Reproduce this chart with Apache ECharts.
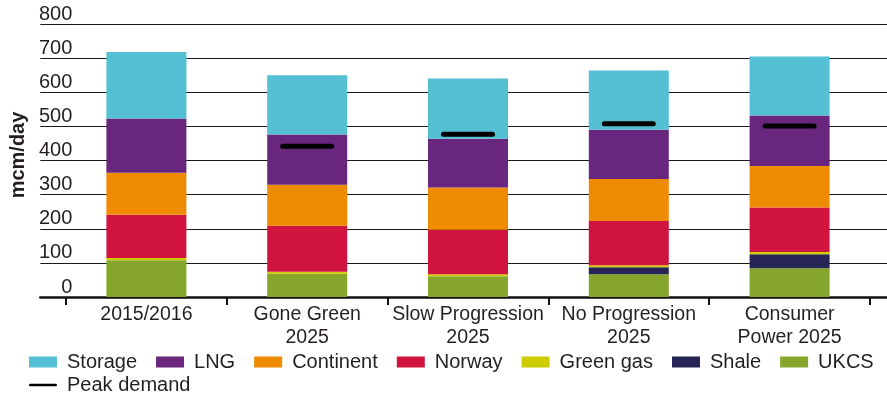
<!DOCTYPE html>
<html>
<head>
<meta charset="utf-8">
<script src="https://cdn.jsdelivr.net/npm/echarts@6/dist/echarts.min.js"></script>
<style>
  html, body { margin: 0; padding: 0; background: #fff; }
  #chart { width: 887px; height: 396px; }
</style>
</head>
<body>
<div id="chart"></div>
<script>
// Gas supply by source, mcm/day
const categories = ['2015/2016', 'Gone Green\n2025', 'Slow Progression\n2025', 'No Progression\n2025', 'Consumer\nPower 2025'];
const yTicks = [0, 100, 200, 300, 400, 500, 600, 700, 800];

const ukcs      = [108, 68, 61, 67, 84];
const shale     = [0, 0, 0, 20, 41];
const greenGas  = [6, 6, 6, 6, 7];
const norway    = [127, 135, 130, 130, 130];
const continent = [123, 120, 124, 123, 122];
const lng       = [159, 147, 143, 144, 148];
const storage   = [195, 174, 176, 174, 173];
const peakDemand = ['-', 442, 477, 508, 501];

const FONT = "'Liberation Sans', Arial, Helvetica, sans-serif";
const TEXT = '#231f20';

// capsule marker used for peak demand
const CAPSULE = 'path://M2.5,0 H51.5 A2.5,2.5 0 0 1 51.5,5 H2.5 A2.5,2.5 0 0 1 2.5,0 Z';

// stacked from the bottom up
const stackSeries = [
  { name: 'UKCS',      data: ukcs,      color: '#86a52b' },
  { name: 'Shale',     data: shale,     color: '#272456' },
  { name: 'Green gas', data: greenGas,  color: '#cccc00' },
  { name: 'Norway',    data: norway,    color: '#d1133f' },
  { name: 'Continent', data: continent, color: '#ef8b00' },
  { name: 'LNG',       data: lng,       color: '#69267f' },
  { name: 'Storage',   data: storage,   color: '#54c0d4' }
];
const legendOrder = ['Storage', 'LNG', 'Continent', 'Norway', 'Green gas', 'Shale', 'UKCS'];

const chart = echarts.init(document.getElementById('chart'), null, { renderer: 'canvas' });

const yMin = yTicks[0], yMax = yTicks[yTicks.length - 1], yStep = yTicks[1] - yTicks[0];

chart.setOption({
  animation: false,
  textStyle: { fontFamily: FONT },
  grid: [
    // full-width frame: gridlines and baseline
    { left: 29, right: 0, top: 24, bottom: 99 },
    // category band where the bars sit
    { left: 66, right: 17, top: 24, bottom: 99 }
  ],
  xAxis: [
    {
      gridIndex: 0, type: 'value', min: 0, max: 1,
      axisLine: { show: true, lineStyle: { color: '#111', width: 2.5 } },
      axisTick: { show: false }, axisLabel: { show: false }, splitLine: { show: false }
    },
    {
      gridIndex: 1, type: 'category', data: categories,
      axisLine: { show: false },
      axisTick: { show: true, length: 8, lineStyle: { color: '#111', width: 2 } },
      axisLabel: {
        interval: 0, margin: 6, fontSize: 19.5, lineHeight: 23,
        color: TEXT, fontFamily: FONT
      }
    }
  ],
  yAxis: [
    {
      gridIndex: 0, type: 'value', min: yMin, max: yMax, interval: yStep,
      name: 'mcm/day', nameLocation: 'middle', nameRotate: 90, nameGap: 5,
      nameTextStyle: { fontSize: 20, fontWeight: 'bold', color: TEXT, fontFamily: FONT, padding: [0, 0, 0, 11] },
      axisLine: { show: false }, axisTick: { show: false },
      axisLabel: {
        margin: -32, align: 'right', verticalAlign: 'bottom', lineHeight: 20,
        fontSize: 20, color: TEXT, fontFamily: FONT
      },
      splitLine: { show: true, lineStyle: { color: '#1a1a1a', width: 1.2 } }
    },
    {
      gridIndex: 1, type: 'value', min: yMin, max: yMax, interval: yStep, show: false,
      splitLine: { show: false }
    }
  ],
  legend: [
    {
      data: legendOrder.map(n => ({ name: n, icon: 'rect' })),
      left: 29, top: 352, padding: 0, itemWidth: 28, itemHeight: 11, itemGap: 19,
      textStyle: { fontSize: 20, color: TEXT, fontFamily: FONT, padding: [0, 0, 0, 5] }
    },
    {
      data: [{ name: 'Peak demand', icon: CAPSULE }],
      left: 29, top: 375, padding: 0, itemWidth: 28, itemHeight: 5,
      textStyle: { fontSize: 20, color: TEXT, fontFamily: FONT, padding: [0, 0, 0, 5] }
    }
  ],
  series: [
    ...stackSeries.map(s => ({
      name: s.name, type: 'bar', stack: 'supply',
      xAxisIndex: 1, yAxisIndex: 1,
      barWidth: 80, data: s.data,
      itemStyle: { color: s.color },
      emphasis: { disabled: true }
    })),
    {
      name: 'Peak demand', type: 'scatter',
      xAxisIndex: 1, yAxisIndex: 1,
      symbol: CAPSULE, symbolSize: [54, 5],
      data: peakDemand,
      itemStyle: { color: '#000', opacity: 1 }, z: 5,
      emphasis: { disabled: true }
    }
  ]
});
</script>
</body>
</html>
